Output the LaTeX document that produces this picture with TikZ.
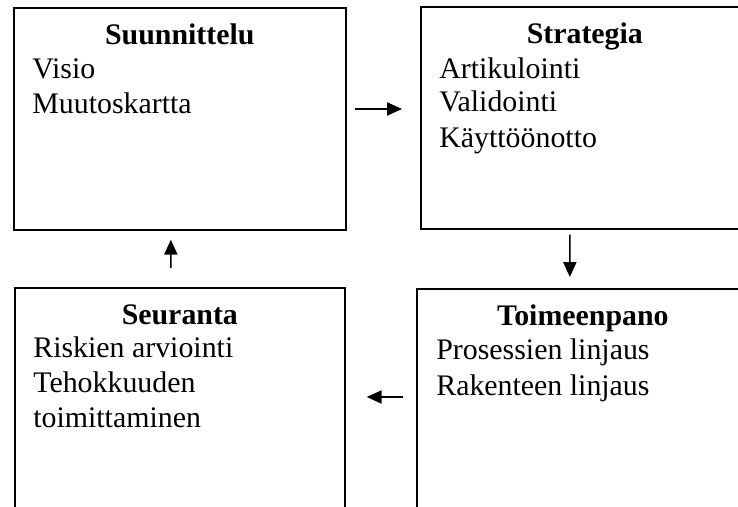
\documentclass[tikz,border=0pt]{standalone}
\usepackage{fontspec}
\setmainfont{Liberation Serif}
\usetikzlibrary{arrows.meta,calc,positioning}

\begin{document}
\begin{tikzpicture}[x=0.02cm, y=-0.02cm,
        box/.style={draw, line width=1pt, inner sep=0pt, minimum height=4.44cm, anchor=north west},
        title/.style={inner sep=0pt, anchor=base, font=\fontsize{17}{20}\selectfont\bfseries},
        item/.style={inner sep=0pt, anchor=base west, font=\fontsize{17}{20}\selectfont},
        arr/.style={line width=0.9pt, -{Triangle[length=8.5pt,width=7.5pt]}}]

                \useasboundingbox (0,0) rectangle (738,507);
                \clip (0,0) rectangle (738,507);

                \node [box, minimum width=6.64cm] (plan) at (13,7) {};
                \node [box, minimum width=6.56cm] (strat) at (420,6) {};
                \node [box, minimum width=6.60cm, minimum height=5.2cm] (seur) at (14,287) {};
                \node [box, minimum width=6.64cm, minimum height=5.2cm] (toim) at (416,288) {};

                \node [title] (plan-t) at ($(plan.north)+(0,38)$) {Suunnittelu};
                \node [item] (plan-1) at ($(plan.north west)+(19,71)$) {Visio};
                \node [item] (plan-2) at ($(plan.north west)+(19,106)$) {Muutoskartta};

                \node [title] (strat-t) at ($(strat.north)+(0,37)$) {Strategia};
                \node [item] (strat-1) at ($(strat.north west)+(19,72)$) {Artikulointi};
                \node [item] (strat-2) at ($(strat.north west)+(19,106)$) {Validointi};
                \node [item] (strat-3) at ($(strat.north west)+(19,141)$) {Käyttöönotto};

                \node [title] (toim-t) at ($(toim.north)+(0,37)$) {Toimeenpano};
                \node [item] (toim-1) at ($(toim.north west)+(20,71)$) {Prosessien linjaus};
                \node [item] (toim-2) at ($(toim.north west)+(20,107)$) {Rakenteen linjaus};

                \node [title] (seur-t) at ($(seur.north)+(0,37)$) {Seuranta};
                \node [item] (seur-1) at ($(seur.north west)+(19,70)$) {Riskien arviointi};
                \node [item] (seur-2) at ($(seur.north west)+(19,105)$) {Tehokkuuden};
                \node [item] (seur-3) at ($(seur.north west)+(19,140)$) {toimittaminen};

                \draw [arr] ($(plan.north east)+(8,102)$) -- ($(strat.north west)+(-18,103)$);
                \draw [arr] ($(strat.south)+(-15,5)$) -- ($(toim.north)+(-13,-11)$);
                \draw [arr] ($(toim.north west)+(-13,109)$) -- ($(seur.north east)+(21,110)$);
                \draw [arr] ($(seur.north)+(-9,-19)$) -- ($(plan.south)+(-9,9)$);

            \end{tikzpicture}
\end{document}
